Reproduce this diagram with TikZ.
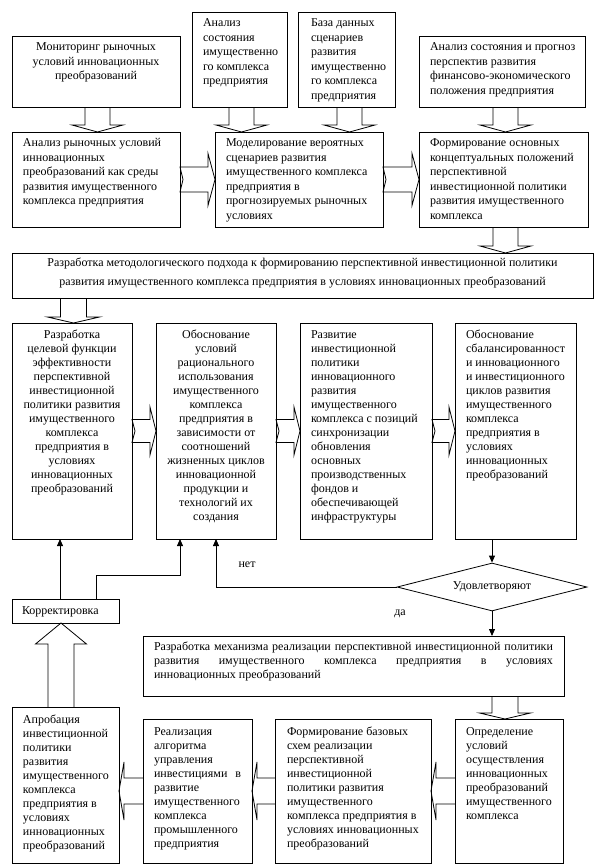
\documentclass[tikz,border=0pt]{standalone}
\usepackage{fontspec}
\setmainfont{Liberation Serif}
\usetikzlibrary{calc,shapes.geometric,arrows.meta}

% #1 width, #2 height, #3 top pad, #4 alignment, #5 text
\newcommand\bt[5]{\parbox[c][#2][t]{#1}{\vspace*{#3}#4\strut #5}}
\newcommand\LL[1]{\raggedright\leftskip=#1\rightskip=0pt plus 1fil\relax}
\newcommand\CA{\centering}

% block arrows: #1 start, #2 tip, #3 shaft half width, #4 head half width, #5 head length
\newcommand\DBlk[5]{\draw[blk] ($(#1)+(-#3,0)$) -- ($(#2)+(-#3,-#5)$) -- ($(#2)+(-#4,-#5)$) -- (#2) -- ($(#2)+(#4,-#5)$) -- ($(#2)+(#3,-#5)$) -- ($(#1)+(#3,0)$);}
\newcommand\UBlk[5]{\draw[blk] ($(#1)+(-#3,0)$) -- ($(#2)+(-#3,#5)$) -- ($(#2)+(-#4,#5)$) -- (#2) -- ($(#2)+(#4,#5)$) -- ($(#2)+(#3,#5)$) -- ($(#1)+(#3,0)$);}
\newcommand\RBlk[5]{\draw[blk] ($(#1)+(0,-#3)$) -- ($(#2)+(-#5,-#3)$) -- ($(#2)+(-#5,-#4)$) -- (#2) -- ($(#2)+(-#5,#4)$) -- ($(#2)+(-#5,#3)$) -- ($(#1)+(0,#3)$) -- ($(#1)+(3,0)$) -- cycle;}
\newcommand\LBlk[5]{\draw[blk] ($(#1)+(0,-#3)$) -- ($(#2)+(#5,-#3)$) -- ($(#2)+(#5,-#4)$) -- (#2) -- ($(#2)+(#5,#4)$) -- ($(#2)+(#5,#3)$) -- ($(#1)+(0,#3)$);}

\begin{document}
\begin{tikzpicture}[x=1pt,y=-1pt,
  box/.style={draw, line width=0.8pt, inner sep=0pt, outer sep=0pt, anchor=north west, font=\fontsize{12}{14.5}\selectfont},
  boxb/.style={box, font=\fontsize{12}{14}\selectfont},
  blk/.style={draw, line width=0.8pt, line join=miter},
  arr/.style={draw, line width=0.8pt, -{Triangle[width=6pt,length=7pt]}},
  lbl/.style={font=\fontsize{12}{14}\selectfont, inner sep=0pt}]
\useasboundingbox (0,0) rectangle (600,867);

% row 1
\node[box] (A) at (12,36) {\bt{168pt}{71pt}{4.5pt}{\CA}{Мониторинг рыночных\\условий инновационных\\преобразований}};
\node[box] (B) at (192,12) {\bt{95pt}{95pt}{4.5pt}{\LL{11pt}}{Анализ\\состояния\\имущественно\\го комплекса\\предприятия}};
\node[box] (C) at (298,12) {\bt{97pt}{95pt}{4.5pt}{\LL{13pt}}{База данных\\сценариев\\развития\\имущественно\\го комплекса\\предприятия}};
\node[box] (D) at (419,36) {\bt{166pt}{71pt}{4.5pt}{\LL{11pt}}{Анализ состояния и прогноз\\перспектив развития\\финансово-экономического\\положения предприятия}};

% row 2
\node[box] (E) at (12,132) {\bt{168pt}{95pt}{4.5pt}{\LL{11pt}}{Анализ рыночных условий\\инновационных\\преобразований как среды\\развития имущественного\\комплекса предприятия}};
\node[box] (F) at (215,132) {\bt{168pt}{95pt}{4.5pt}{\LL{11pt}}{Моделирование вероятных\\сценариев развития\\имущественного комплекса\\предприятия в\\прогнозируемых рыночных\\условиях}};
\node[box] (G) at (419,132) {\bt{169pt}{95pt}{4.5pt}{\LL{11pt}}{Формирование основных\\концептуальных положений\\перспективной\\инвестиционной политики\\развития имущественного\\комплекса}};

% wide box
\node[box] (H) at (12,253) {\parbox[c][45pt][t]{581pt}{\centering\fontsize{12}{19}\selectfont\strut Разработка методологического подхода к формированию перспективной инвестиционной политики\\развития имущественного комплекса предприятия в условиях инновационных преобразований}};

% row 3
\node[boxb] (I) at (12,323) {\bt{120pt}{216pt}{5.7pt}{\CA}{Разработка\\целевой функции\\эффективности\\перспективной\\инвестиционной\\политики развития\\имущественного\\комплекса\\предприятия в\\условиях\\инновационных\\преобразований}};
\node[boxb] (J) at (156,323) {\bt{120pt}{216pt}{5.7pt}{\CA}{Обоснование\\условий\\рационального\\использования\\имущественного\\комплекса\\предприятия в\\зависимости от\\соотношений\\жизненных циклов\\инновационной\\продукции и\\технологий их\\создания}};
\node[boxb] (K) at (300,323) {\bt{132pt}{216pt}{5.7pt}{\LL{11pt}}{Развитие\\инвестиционной\\политики\\инновационного\\развития\\имущественного\\комплекса с позиций\\синхронизации\\обновления\\основных\\производственных\\фондов и\\обеспечивающей\\инфраструктуры}};
\node[boxb] (L) at (455,323) {\bt{121pt}{216pt}{5.7pt}{\LL{11pt}}{Обоснование\\сбалансированност\\и инновационного\\и инвестиционного\\циклов развития\\имущественного\\комплекса\\предприятия в\\условиях\\инновационных\\преобразований}};

% decision
\node[draw, line width=0.8pt, diamond, aspect=4, minimum width=190pt, minimum height=48pt, inner sep=0pt, font=\fontsize{12}{14}\selectfont] (Q) at (492,587) {Удовлетворяют};
\node[lbl] (net) at (247,565) {нет};
\node[lbl] (da) at (400,614) {да};

% correction
\node[box] (R) at (12,599) {\bt{107pt}{24pt}{5pt}{\LL{10pt}}{Корректировка}};

% mechanism box
\node[boxb] (H2) at (143,636) {\bt{421pt}{60pt}{4.7pt}{\LL{11pt}}{\makebox[399pt][s]{Разработка механизма реализации перспективной инвестиционной политики}\\\makebox[399pt][s]{развития имущественного комплекса предприятия в условиях}\\инновационных преобразований}};

% bottom row
\node[boxb] (N) at (12,707) {\bt{107pt}{156pt}{6.7pt}{\LL{11pt}}{Апробация\\инвестиционной\\политики\\развития\\имущественного\\комплекса\\предприятия в\\условиях\\инновационных\\преобразований}};
\node[boxb] (O) at (143,719) {\bt{109pt}{144pt}{6.7pt}{\LL{11pt}}{Реализация\\алгоритма\\управления\\\makebox[87pt][s]{инвестициями в}\\развитие\\имущественного\\комплекса\\промышленного\\предприятия}};
\node[boxb] (P) at (275,719) {\bt{156pt}{144pt}{6.7pt}{\LL{12pt}}{Формирование базовых\\схем реализации\\перспективной\\инвестиционной\\политики развития\\имущественного\\комплекса предприятия в\\условиях инновационных\\преобразований}};
\node[boxb] (M) at (455,719) {\bt{108pt}{144pt}{6.7pt}{\LL{11pt}}{Определение\\условий\\осуществления\\инновационных\\преобразований\\имущественного\\комплекса}};

% down block arrows
\coordinate (a1) at ([xshift=1.5pt]A.south); \coordinate (a2) at (a1 |- E.north);
\DBlk{a1}{a2}{12.5}{25.5}{7}
\coordinate (b1) at ([xshift=2pt]B.south); \coordinate (b2) at (b1 |- F.north);
\DBlk{b1}{b2}{12.5}{25.5}{7}
\coordinate (c1) at ([xshift=3pt]C.south); \coordinate (c2) at (c1 |- F.north);
\DBlk{c1}{c2}{12.5}{25.5}{7}
\coordinate (d1) at ([xshift=3.5pt]D.south); \coordinate (d2) at (d1 |- G.north);
\DBlk{d1}{d2}{12.5}{25.5}{7}
\coordinate (g1) at ([xshift=2pt]G.south); \coordinate (g2) at (g1 |- H.north);
\DBlk{g1}{g2}{12.5}{25.5}{7}
\coordinate (i2) at ([xshift=1.5pt]I.north); \coordinate (i1) at (i2 |- H.south);
\DBlk{i1}{i2}{13}{26}{6}
\coordinate (m2) at ([xshift=-4pt]M.north); \coordinate (m1) at (m2 |- H2.south);
\DBlk{m1}{m2}{13}{25.5}{6}
% up block arrow
\coordinate (n1) at ([xshift=-4.5pt]N.north); \coordinate (n2) at (n1 |- R.south);
\UBlk{n1}{n2}{13}{25.5}{21}

% right block arrows
\coordinate (ef) at (E.east -| F.west); \RBlk{E.east}{ef}{12.5}{26}{7}
\coordinate (fg) at (F.east -| G.west); \RBlk{F.east}{fg}{12.5}{26}{7}
\coordinate (ij) at (I.east -| J.west); \RBlk{I.east}{ij}{11.5}{24}{6}
\coordinate (jk) at (J.east -| K.west); \RBlk{J.east}{jk}{11.5}{24}{6}
\coordinate (kl) at (K.east -| L.west); \RBlk{K.east}{kl}{11.5}{24}{6}

% left block arrows
\coordinate (po) at (O.east |- P.west); \LBlk{P.west}{po}{13}{29}{5}
\coordinate (on) at (N.east |- O.west); \LBlk{O.west}{on}{13}{29}{5}
\coordinate (mp) at (P.east |- M.west); \LBlk{M.west}{mp}{13}{29}{5}

% feedback lines
\coordinate (k1) at ([xshift=-5.5pt]R.north);
\draw[arr] (k1) -- (k1 |- I.south);
\coordinate (k2) at ([xshift=30.5pt]R.north);
\coordinate (j1) at ([xshift=-36pt]J.south);
\draw[arr] (k2) -- ++(0,-24) -| (j1);
\draw[arr] (Q.west) -| (J.south);
\draw[arr] (Q.north |- L.south) -- (Q.north);
\draw[arr] (Q.south) -- (Q.south |- H2.north);
\end{tikzpicture}
\end{document}
